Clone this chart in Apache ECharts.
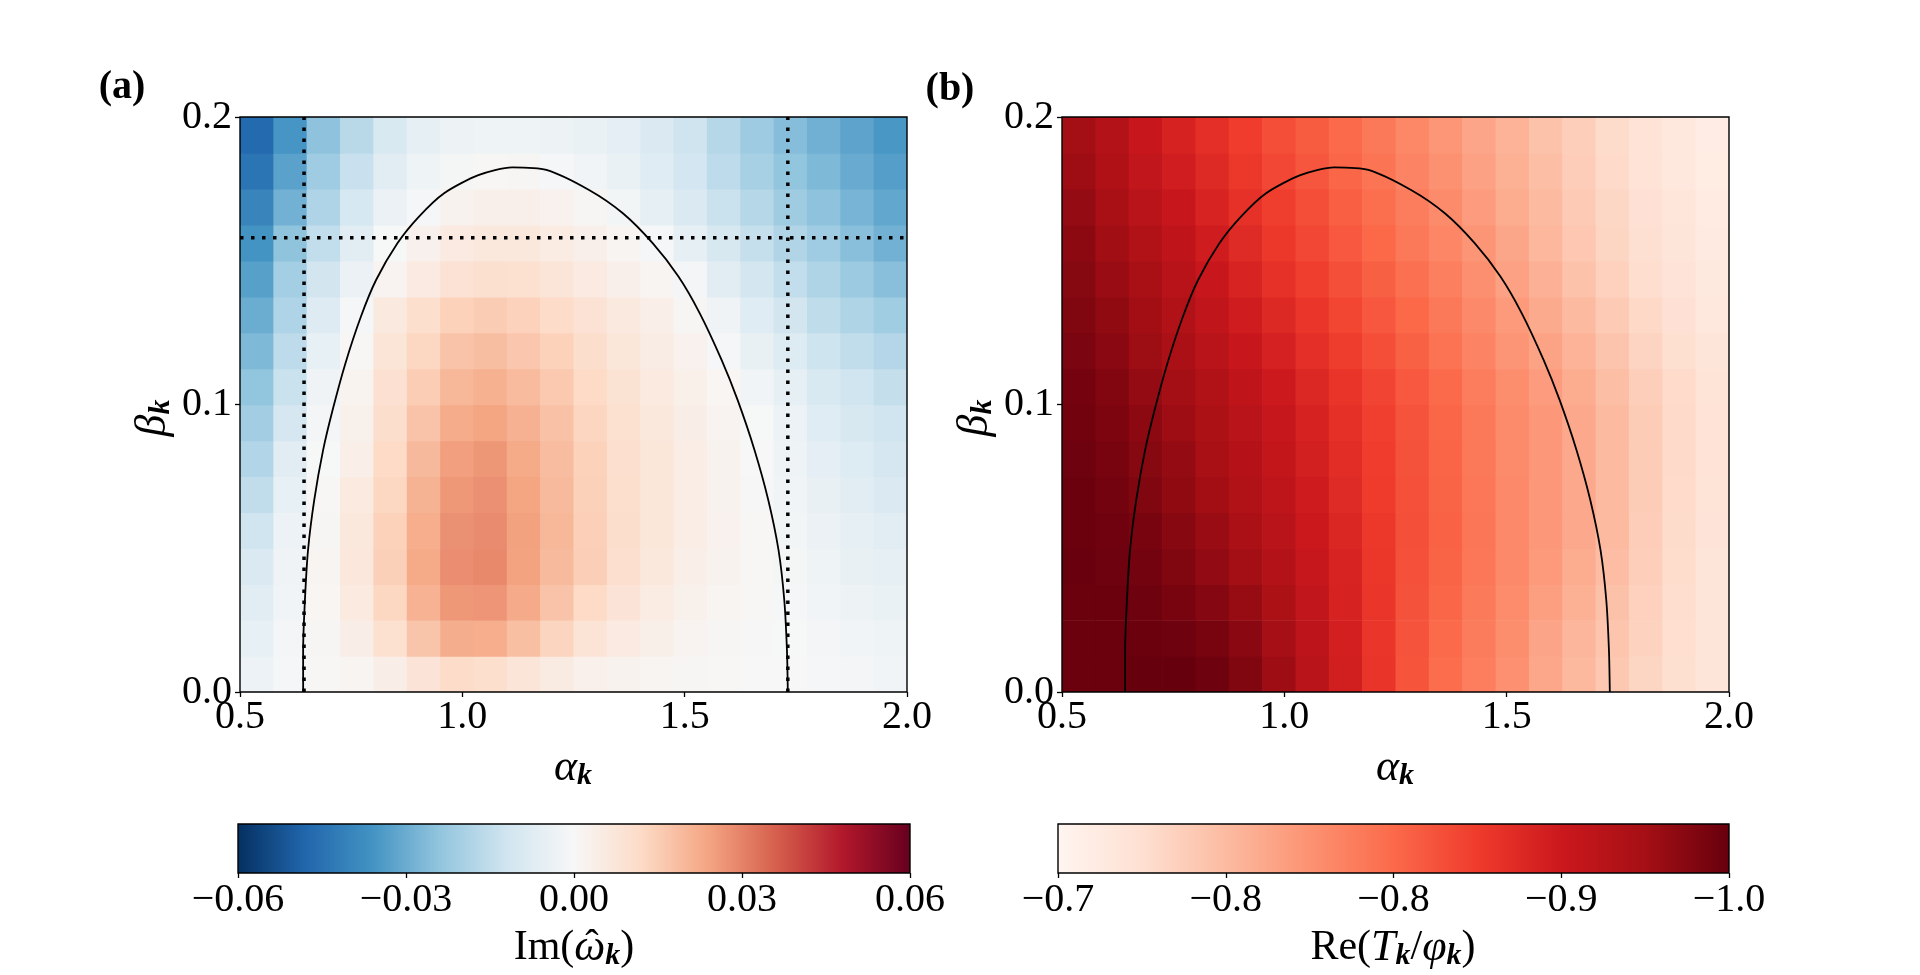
<!DOCTYPE html>
<html>
<head>
<meta charset="utf-8">
<script src="https://cdn.jsdelivr.net/npm/echarts@6.0.0/dist/echarts.min.js"></script>
<style>
html, body { margin: 0; padding: 0; background: #fff; }
#main { width: 1920px; height: 975px; }
</style>
</head>
<body>
<div id="main"></div>
<script>
// cell centres of the sampled grid (alpha_k across, beta_k up)
var alphaCenters = [0.5375, 0.6125, 0.6875, 0.7625, 0.8375, 0.9125, 0.9875, 1.0625, 1.1375, 1.2125,
                    1.2875, 1.3625, 1.4375, 1.5125, 1.5875, 1.6625, 1.7375, 1.8125, 1.8875, 1.9625];
var betaCenters = [0.00625, 0.01875, 0.03125, 0.04375, 0.05625, 0.06875, 0.08125, 0.09375,
                   0.10625, 0.11875, 0.13125, 0.14375, 0.15625, 0.16875, 0.18125, 0.19375];

// (a) Im(omega_k), in units of 1e-3, rows from beta = 0 upwards
var imOmegaMilli = [
  [-3.5, -0.8, 0.4, 1.4, 4.1, 8.1, 11.4, 10.5, 7.7, 5.2, 3.1, 2, 1.2, 0.7, 0.4, 0.1, -0.1, -0.8, -1.3, -1.8],
  [-5, -1.3, 0.7, 3.9, 9.5, 17, 22.1, 22, 18.3, 13.3, 8.3, 5.5, 3.4, 1.8, 0.9, 0.3, -0.2, -1.3, -2.1, -3],
  [-7, -1.8, 1, 5.7, 12.7, 21.1, 26.3, 26.7, 22.6, 17.3, 12.1, 8.1, 5, 2.9, 1.4, 0.4, -0.5, -2, -3.1, -4.1],
  [-9, -2.5, 1.2, 7, 14.5, 22.9, 28.1, 28.9, 24.4, 19.3, 14.8, 10.3, 6.5, 3.8, 2.3, 0.6, -1, -3, -4.5, -5.5],
  [-12, -3.6, 0.8, 6.5, 14, 22, 27.4, 28.6, 24.6, 19.8, 14.6, 10.6, 7.2, 4.3, 2.4, 0.5, -1.6, -3.8, -5.6, -7],
  [-15, -4.9, 0.4, 5.7, 13, 20.8, 26.2, 27.6, 23.8, 19.3, 14.2, 10.5, 7.3, 4.4, 2.2, 0.3, -2.2, -4.6, -6.9, -8.7],
  [-18, -7.1, -0.2, 3.7, 12, 19.5, 25, 26.5, 23, 18.8, 14, 10.3, 7.3, 4.4, 2.1, 0.1, -2.9, -5.8, -8.3, -10.4],
  [-21, -10.4, -1.1, 2.9, 10.7, 17.3, 22.4, 24, 21.3, 17.5, 13.2, 9.7, 6.6, 3.9, 1.7, -0.3, -3.6, -7.3, -9.8, -12.1],
  [-24, -13.3, -2.6, 1.9, 9.3, 15.2, 20, 21.4, 19.2, 16, 12.1, 8.7, 5.7, 3.2, 1, -1.9, -5.4, -9.5, -12, -14.5],
  [-27, -15.8, -4.9, 0.5, 7.9, 13, 17.3, 18.4, 16.6, 14, 10.6, 7.3, 4.6, 2.4, -0.5, -4.6, -8.1, -12.5, -15, -17.5],
  [-30, -18.3, -7.8, -0.5, 6.1, 10.4, 14, 15.3, 13.9, 11.6, 8.8, 6.1, 3.7, 0.9, -2.5, -7.6, -11.3, -15.5, -18.4, -21.1],
  [-33, -20.8, -11.3, -3.8, 1.7, 5.5, 8.8, 9.9, 9.4, 7.7, 5.5, 3.3, 1.3, -1.2, -6.6, -10.9, -14.8, -18.5, -22.1, -25.4],
  [-36, -24.3, -14.8, -6.8, -0.3, 2.8, 5.5, 6.6, 6.4, 5, 3.3, 1.3, -0.8, -5.3, -9.8, -14.1, -18.1, -21.5, -25.4, -28.8],
  [-40, -28.8, -18.3, -10.3, -3.8, -0.5, 2.2, 3.3, 3.3, 2.4, 0.9, -1.5, -5.4, -8.8, -13.3, -17.4, -21.4, -24.5, -28.1, -31.3],
  [-44, -32.5, -21.5, -13.5, -6.5, -2.8, -1, 0.6, 0.7, -0.5, -1.8, -4, -7.6, -11.1, -15.8, -19.9, -24, -27, -30.4, -33.4],
  [-47, -35.5, -24.5, -16.5, -9.5, -5.3, -3.1, -2.8, -2.8, -3.3, -4.3, -6, -8.9, -12.4, -17.3, -21.6, -26, -29, -32.1, -35.1]
];

// (b) Re(T_k / phi_k), rows from beta = 0 upwards
var reTphi = [
  [-0.997, -0.997, -1.000, -1.000, -0.996, -0.985, -0.967, -0.943, -0.919, -0.894, -0.867, -0.847, -0.831, -0.814, -0.793, -0.777, -0.762, -0.749, -0.738, -0.729],
  [-0.997, -0.997, -0.998, -0.996, -0.990, -0.979, -0.962, -0.940, -0.917, -0.893, -0.868, -0.849, -0.833, -0.816, -0.796, -0.780, -0.765, -0.751, -0.739, -0.729],
  [-0.998, -0.997, -0.996, -0.990, -0.982, -0.971, -0.956, -0.935, -0.914, -0.893, -0.869, -0.852, -0.835, -0.818, -0.801, -0.785, -0.769, -0.753, -0.740, -0.729],
  [-0.999, -0.996, -0.993, -0.985, -0.974, -0.963, -0.949, -0.930, -0.912, -0.892, -0.870, -0.855, -0.838, -0.820, -0.805, -0.789, -0.773, -0.756, -0.741, -0.729],
  [-0.998, -0.995, -0.990, -0.980, -0.969, -0.957, -0.943, -0.926, -0.909, -0.891, -0.871, -0.856, -0.839, -0.821, -0.807, -0.792, -0.775, -0.757, -0.742, -0.730],
  [-0.997, -0.993, -0.985, -0.975, -0.964, -0.952, -0.939, -0.922, -0.905, -0.888, -0.870, -0.855, -0.838, -0.820, -0.807, -0.792, -0.775, -0.758, -0.743, -0.731],
  [-0.996, -0.990, -0.981, -0.972, -0.960, -0.948, -0.934, -0.918, -0.902, -0.887, -0.869, -0.854, -0.837, -0.819, -0.807, -0.792, -0.775, -0.758, -0.744, -0.732],
  [-0.994, -0.987, -0.977, -0.967, -0.956, -0.943, -0.930, -0.914, -0.899, -0.884, -0.868, -0.852, -0.836, -0.819, -0.807, -0.792, -0.775, -0.758, -0.744, -0.732],
  [-0.992, -0.984, -0.973, -0.963, -0.951, -0.937, -0.924, -0.908, -0.894, -0.880, -0.864, -0.849, -0.832, -0.816, -0.804, -0.789, -0.772, -0.756, -0.743, -0.731],
  [-0.988, -0.979, -0.968, -0.957, -0.943, -0.928, -0.915, -0.900, -0.886, -0.872, -0.857, -0.842, -0.826, -0.810, -0.797, -0.782, -0.766, -0.750, -0.738, -0.728],
  [-0.985, -0.975, -0.964, -0.951, -0.936, -0.921, -0.907, -0.893, -0.879, -0.865, -0.851, -0.837, -0.821, -0.805, -0.791, -0.775, -0.760, -0.745, -0.735, -0.725],
  [-0.981, -0.970, -0.959, -0.945, -0.929, -0.912, -0.898, -0.885, -0.871, -0.858, -0.844, -0.830, -0.815, -0.799, -0.784, -0.768, -0.753, -0.740, -0.730, -0.721],
  [-0.977, -0.965, -0.952, -0.937, -0.921, -0.905, -0.891, -0.878, -0.864, -0.851, -0.837, -0.824, -0.810, -0.794, -0.779, -0.763, -0.749, -0.737, -0.728, -0.719],
  [-0.972, -0.959, -0.943, -0.929, -0.913, -0.898, -0.885, -0.872, -0.859, -0.846, -0.832, -0.819, -0.804, -0.789, -0.775, -0.760, -0.747, -0.735, -0.726, -0.717],
  [-0.967, -0.953, -0.935, -0.920, -0.906, -0.891, -0.878, -0.866, -0.853, -0.840, -0.826, -0.813, -0.799, -0.785, -0.771, -0.757, -0.744, -0.733, -0.724, -0.715],
  [-0.963, -0.949, -0.928, -0.914, -0.900, -0.887, -0.873, -0.862, -0.849, -0.836, -0.822, -0.809, -0.795, -0.782, -0.768, -0.755, -0.742, -0.732, -0.723, -0.714]
];

// Im(omega_k) = 0 curve, left foot to right foot
var contourAlpha = [0.642, 0.642, 0.646, 0.653, 0.667, 0.687, 0.709, 0.737, 0.772, 0.806, 0.854, 0.902, 0.959, 1.036, 1.112,
                    1.189, 1.285, 1.361, 1.428, 1.486, 1.534, 1.583, 1.619, 1.657, 1.688, 1.711, 1.724, 1.730, 1.732];
var contourBeta = [0, 0.0146, 0.032, 0.0494, 0.0668, 0.0842, 0.0985, 0.1143, 0.1306, 0.1433, 0.1561, 0.1653, 0.1735, 0.1798, 0.1825,
                   0.1816, 0.1746, 0.1665, 0.1561, 0.1445, 0.1317, 0.1155, 0.1016, 0.0842, 0.0668, 0.0494, 0.032, 0.0146, 0];

// dotted guide lines in (a)
var guideAlpha = [0.644, 1.732];
var guideBeta = 0.158;

var cbarTicksIm = ['\u22120.06', '\u22120.03', '0.00', '0.03', '0.06'];
var cbarTicksRe = ['\u22120.7', '\u22120.8', '\u22120.8', '\u22120.9', '\u22121.0'];

var cellW = 0.075, cellH = 0.0125;
var serif = '"Liberation Serif", "DejaVu Serif", serif';
var rdbuR = ['#053061', '#2166ac', '#4393c3', '#92c5de', '#d1e5f0', '#f7f7f7', '#fddbc7', '#f4a582', '#d6604d', '#b2182b', '#67001f'];
var redsDarkFirst = ['#67000d', '#a50f15', '#cb181d', '#ef3b2c', '#fb6a4a', '#fc9272', '#fcbba1', '#fee0d2', '#fff5f0'];

function toCells(rows) {
  var out = [];
  rows.forEach(function (row, j) {
    row.forEach(function (v, i) { out.push([alphaCenters[i], betaCenters[j], v]); });
  });
  return out;
}
function renderCell(params, api) {
  var a = api.value(0), b = api.value(1);
  var p0 = api.coord([a - cellW / 2, b + cellH / 2]);
  var p1 = api.coord([a + cellW / 2, b - cellH / 2]);
  return {
    type: 'rect',
    shape: { x: p0[0], y: p0[1], width: p1[0] - p0[0] + 0.7, height: p1[1] - p0[1] + 0.7 },
    style: { fill: api.visual('color') }
  };
}
function stops(colors) {
  return colors.map(function (c, i) { return { offset: i / (colors.length - 1), color: c }; });
}
var contourData = contourAlpha.map(function (a, i) { return [a, contourBeta[i]]; });

var tickStyle = { show: true, inside: false, length: 5, lineStyle: { color: '#000', width: 1.3 } };
var labelBase = { color: '#000', fontFamily: serif, fontSize: 40 };

function panelX(idx) {
  return { type: 'value', gridIndex: idx, min: 0.5, max: 2.0, interval: 0.5,
    axisLine: { show: false }, axisTick: tickStyle, splitLine: { show: false },
    axisLabel: Object.assign({ margin: 5, formatter: function (v) { return v.toFixed(1); } }, labelBase) };
}
function panelY(idx) {
  return { type: 'value', gridIndex: idx, min: 0, max: 0.2, interval: 0.1,
    axisLine: { show: false }, axisTick: tickStyle, splitLine: { show: false },
    axisLabel: Object.assign({ margin: 8, formatter: function (v) { return v.toFixed(1); } }, labelBase) };
}
var frame = { show: true, borderColor: '#000', borderWidth: 1.4, backgroundColor: 'transparent', z: 10 };

var mainRich = {
  r: { fontFamily: serif, fontSize: 42, fill: '#000' },
  m: { fontFamily: serif, fontStyle: 'italic', fontSize: 44, fill: '#000' },
  s: { fontFamily: serif, fontStyle: 'italic', fontWeight: 'bold', fontSize: 30, fill: '#000', padding: [16, 0, 0, 0] }
};
function mathText(x, y, text, rot) {
  return { type: 'text', x: x, y: y, rotation: rot || 0, z: 20,
    style: { text: text, rich: mainRich, align: 'center', verticalAlign: 'middle' } };
}

// where the omega sits inside the centred colour-bar label, for its hat
var measure = document.createElement('canvas').getContext('2d');
function textW(font, s) { measure.font = font; return measure.measureText(s).width; }
var imLabelX = 574, imLabelY = 948;
var wOpen = textW('42px ' + serif, 'Im('), wOmega = textW('italic 44px ' + serif, '\u03c9');
var wSub = textW('italic bold 30px ' + serif, 'k'), wClose = textW('42px ' + serif, ')');
var omegaMid = imLabelX - (wOpen + wOmega + wSub + wClose) / 2 + wOpen + wOmega / 2 + 2;

var chart = echarts.init(document.getElementById('main'));
chart.setOption({
  animation: false,
  backgroundColor: '#fff',
  grid: [
    Object.assign({ left: 240, top: 117, width: 667, height: 575 }, frame),
    Object.assign({ left: 1062, top: 117, width: 667, height: 575 }, frame),
    Object.assign({ left: 238, top: 824, width: 672, height: 49 }, frame),
    Object.assign({ left: 1058, top: 824, width: 671, height: 49 }, frame)
  ],
  xAxis: [
    panelX(0), panelX(1),
    { type: 'value', gridIndex: 2, min: -60, max: 60, interval: 30, axisLine: { show: false },
      axisTick: tickStyle, splitLine: { show: false },
      axisLabel: Object.assign({ margin: 7, formatter: function (v, i) { return cbarTicksIm[i]; } }, labelBase) },
    { type: 'value', gridIndex: 3, min: 0, max: 4, interval: 1, axisLine: { show: false },
      axisTick: tickStyle, splitLine: { show: false },
      axisLabel: Object.assign({ margin: 7, formatter: function (v, i) { return cbarTicksRe[i]; } }, labelBase) }
  ],
  yAxis: [
    panelY(0), panelY(1),
    { type: 'value', gridIndex: 2, min: 0, max: 1, show: false },
    { type: 'value', gridIndex: 3, min: 0, max: 1, show: false }
  ],
  visualMap: [
    { type: 'continuous', show: false, seriesIndex: 0, dimension: 2, min: -60, max: 60, inRange: { color: rdbuR } },
    { type: 'continuous', show: false, seriesIndex: 1, dimension: 2, min: -1.0, max: -0.7, inRange: { color: redsDarkFirst } }
  ],
  series: [
    { type: 'custom', xAxisIndex: 0, yAxisIndex: 0, clip: true, silent: true, renderItem: renderCell,
      encode: { x: 0, y: 1 }, data: toCells(imOmegaMilli) },
    { type: 'custom', xAxisIndex: 1, yAxisIndex: 1, clip: true, silent: true, renderItem: renderCell,
      encode: { x: 0, y: 1 }, data: toCells(reTphi) },
    { type: 'line', xAxisIndex: 0, yAxisIndex: 0, data: contourData, symbol: 'none', smooth: 0.25, silent: true, z: 5,
      lineStyle: { color: '#000', width: 1.8 } },
    { type: 'line', xAxisIndex: 1, yAxisIndex: 1, data: contourData, symbol: 'none', smooth: 0.25, silent: true, z: 5,
      lineStyle: { color: '#000', width: 1.8 } },
    { type: 'line', xAxisIndex: 0, yAxisIndex: 0, data: [[guideAlpha[0], 0], [guideAlpha[0], 0.2]], symbol: 'none', silent: true, z: 6,
      lineStyle: { color: '#000', width: 3.5, type: [3.5, 7.5], cap: 'butt' } },
    { type: 'line', xAxisIndex: 0, yAxisIndex: 0, data: [[guideAlpha[1], 0], [guideAlpha[1], 0.2]], symbol: 'none', silent: true, z: 6,
      lineStyle: { color: '#000', width: 3.5, type: [3.5, 7.5], cap: 'butt' } },
    { type: 'line', xAxisIndex: 0, yAxisIndex: 0, data: [[0.5, guideBeta], [2.0, guideBeta]], symbol: 'none', silent: true, z: 6,
      lineStyle: { color: '#000', width: 3.5, type: [3.5, 7.5], cap: 'butt' } }
  ],
  graphic: [
    { type: 'rect', shape: { x: 238, y: 824, width: 672, height: 49 }, z: 1,
      style: { fill: new echarts.graphic.LinearGradient(0, 0, 1, 0, stops(rdbuR)) } },
    { type: 'rect', shape: { x: 1058, y: 824, width: 671, height: 49 }, z: 1,
      style: { fill: new echarts.graphic.LinearGradient(0, 0, 1, 0, stops(redsDarkFirst.slice().reverse())) } },
    { type: 'text', x: 122, y: 88, z: 20, style: { text: '(a)', font: 'bold 40px ' + serif, fill: '#000', align: 'center', verticalAlign: 'middle' } },
    { type: 'text', x: 950, y: 90, z: 20, style: { text: '(b)', font: 'bold 40px ' + serif, fill: '#000', align: 'center', verticalAlign: 'middle' } },
    mathText(573, 768, '{m|\u03b1}{s|k}'),
    mathText(1395, 768, '{m|\u03b1}{s|k}'),
    mathText(153, 418, '{m|\u03b2}{s|k}', Math.PI / 2),
    mathText(975, 418, '{m|\u03b2}{s|k}', Math.PI / 2),
    mathText(imLabelX, imLabelY, '{r|Im(}{m|\u03c9}{s|k}{r|)}'),
    { type: 'text', x: omegaMid, y: imLabelY - 2, z: 20,
      style: { text: '\u02c6', font: '40px ' + serif, fill: '#000', align: 'center', verticalAlign: 'middle' } },
    mathText(1393, 948, '{r|Re(}{m|T}{s|k}{r|/}{m|\u03c6}{s|k}{r|)}')
  ]
});
</script>
</body>
</html>
